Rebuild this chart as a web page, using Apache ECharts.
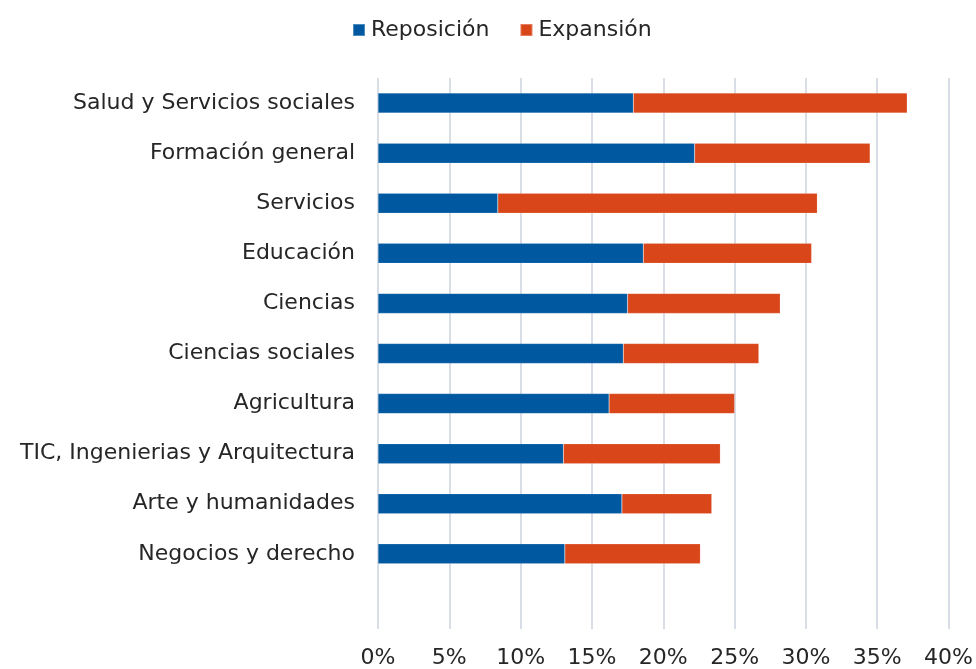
<!DOCTYPE html>
<html>
<head>
<meta charset="utf-8">
<script src="https://cdn.jsdelivr.net/npm/echarts@6/dist/echarts.min.js"></script>
<style>
html,body{margin:0;padding:0;background:#fff;}
#chart{width:976px;height:669px;}
</style>
</head>
<body>
<div id="chart"></div>
<script>
const categories = ["Salud y Servicios sociales","Formación general","Servicios","Educación","Ciencias","Ciencias sociales","Agricultura","TIC, Ingenierias y Arquitectura","Arte y humanidades","Negocios y derecho",""];
const reposicion = [17.9, 22.2, 8.4, 18.6, 17.5, 17.2, 16.2, 13.0, 17.1, 13.1, null];
const expansion = [19.2, 12.3, 22.4, 11.8, 10.7, 9.5, 8.8, 11.0, 6.3, 9.5, null];
const seriesNames = ["Reposición","Expansión"];

const FONT = "DejaVu Sans";
const chart = echarts.init(document.getElementById('chart'), null, {renderer:'canvas'});
chart.setOption({
  animation:false,
  backgroundColor:'#fff',
  textStyle:{fontFamily:FONT},
  legend:{
    data:seriesNames,
    top:14,
    left:347,
    itemWidth:12,
    itemHeight:12,
    itemGap:30,
    icon:'rect',
    textStyle:{fontFamily:FONT,fontSize:22,color:'#262626',padding:[0,0,0,1]}
  },
  grid:{left:378,right:25,top:78,height:551,containLabel:false},
  xAxis:{
    type:'value',min:0,max:40,interval:5,
    axisLabel:{formatter:'{value}%',fontFamily:FONT,fontSize:22,color:'#262626',margin:18},
    axisLine:{show:false},axisTick:{show:false},
    splitLine:{show:true,lineStyle:{color:'#d9dde5',width:2}}
  },
  yAxis:{
    type:'category',data:categories,inverse:true,
    axisLabel:{fontFamily:FONT,fontSize:22,color:'#262626',margin:23},
    axisLine:{show:false},axisTick:{show:false},splitLine:{show:false}
  },
  series:[
    {name:seriesNames[0],type:'bar',stack:'t',data:reposicion,barWidth:20,
     itemStyle:{color:'#0059A0',borderColor:'rgba(255,255,255,0.3)',borderWidth:0.5}},
    {name:seriesNames[1],type:'bar',stack:'t',data:expansion,barWidth:20,
     itemStyle:{color:'#D9461A',borderColor:'rgba(255,255,255,0.3)',borderWidth:0.5}}
  ]
});
</script>
</body>
</html>
